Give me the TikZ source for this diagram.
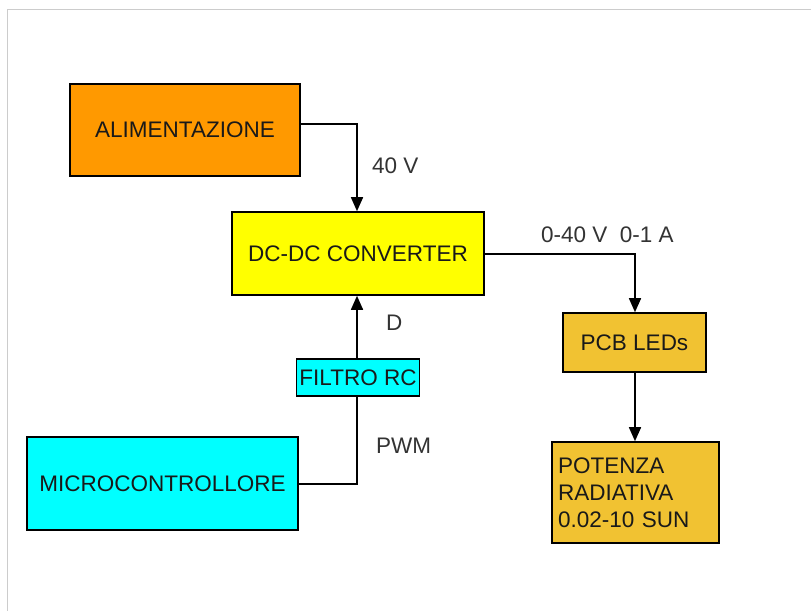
\documentclass[tikz,border=0pt]{standalone}
\usepackage{fontspec}
\setmainfont{Liberation Sans}
\usetikzlibrary{arrows.meta}
\definecolor{orangebox}{HTML}{FF9900}
\definecolor{yellowbox}{HTML}{FFFF00}
\definecolor{goldbox}{HTML}{F1C232}
\definecolor{cyanbox}{HTML}{00FFFF}
\definecolor{labelgray}{HTML}{333333}
\definecolor{framegray}{HTML}{CCCCCC}
\tikzset{
  blockbox/.style={draw=black, line width=1.6pt, inner sep=0pt, font=\fontsize{22.5}{27}\selectfont, text=black!90},
  conn/.style={draw=black, line width=1.6pt, -{Triangle[length=14pt,width=12pt]}},
  plainconn/.style={draw=black, line width=1.6pt},
  lbl/.style={font=\fontsize{22.5}{27}\selectfont, text=labelgray, inner sep=0pt},
}
\begin{document}
\begin{tikzpicture}[x=1pt,y=-1pt]
\useasboundingbox[fill=white] (0,0) rectangle (811,611);
\draw[framegray, line width=1pt] (811,9) -- (7,9) -- (7,611);
% boxes
\node[blockbox, fill=orangebox, minimum width=230pt, minimum height=92pt] (ali) at (185,130) {ALIMENTAZIONE};
\node[blockbox, fill=yellowbox, minimum width=252pt, minimum height=83pt] (dc) at (358,253.5) {DC-DC CONVERTER};
\node[blockbox, fill=goldbox, minimum width=143pt, minimum height=59pt] (pcb) at (634.5,342.5) {PCB LEDs};
\node[blockbox, fill=goldbox, minimum width=167pt, minimum height=101pt, align=left, text width=155pt, font=\fontsize{22.5}{27}\selectfont] (pot) at (635.5,492.5) {POTENZA\\RADIATIVA\\0.02-10 SUN};
\node[blockbox, fill=cyanbox, minimum width=123pt, minimum height=37pt] (rc) at (358,377.5) {FILTRO RC};
\node[blockbox, fill=cyanbox, minimum width=271pt, minimum height=93pt] (mcu) at (162.5,483.5) {MICROCONTROLLORE};
% corner coordinates
\coordinate (c1) at (357,124);
\coordinate (c2) at (635,254);
\coordinate (c3) at (357,484);
% connectors
\draw[conn] (ali.east |- c1) -- (c1) -- (c1 |- dc.north);
\draw[conn] (dc.east |- c2) -- (c2) -- (c2 |- pcb.north);
\draw[conn] (pcb.south -| c2) -- (c2 |- pot.north);
\draw[plainconn] (mcu.east |- c3) -- (c3) -- (c3 |- rc.south);
\draw[conn] (rc.north -| c3) -- (c3 |- dc.south);
% labels
\node[lbl, anchor=west] (l40) at (372,166) {40 V};
\node[lbl, anchor=west] (lout) at (541,235) {0-40 V\ \ 0-1 A};
\node[lbl, anchor=west] (ld) at (386,323) {D};
\node[lbl, anchor=west] (lpwm) at (376,446) {PWM};
\end{tikzpicture}
\end{document}
